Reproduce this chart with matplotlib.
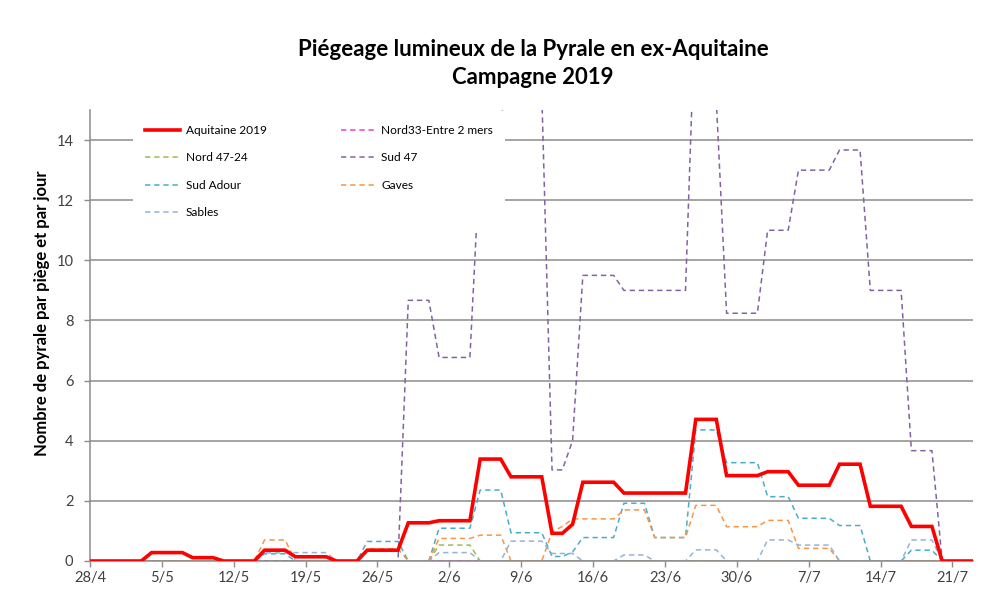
import matplotlib
matplotlib.use('Agg')
import matplotlib.pyplot as plt
import pandas as pd

plt.rcParams['font.family'] = ['Lato', 'DejaVu Sans']

# Relevés journaliers du 28/4 au 23/7
dates = pd.date_range('2019-04-28', '2019-07-23', freq='D')
tick_dates = pd.date_range('2019-04-28', '2019-07-21', freq='7D')
tick_labels = ['28/4', '5/5', '12/5', '19/5', '26/5', '2/6', '9/6',
               '16/6', '23/6', '30/6', '7/7', '14/7', '21/7']

aquitaine = [0, 0, 0, 0, 0, 0, 0.28,
             0.28, 0.28, 0.28, 0.11, 0.11, 0.11, 0,
             0, 0, 0, 0.36, 0.36, 0.36, 0.14,
             0.14, 0.14, 0.14, 0, 0, 0, 0.36,
             0.36, 0.36, 0.36, 1.27, 1.27, 1.27, 1.34,
             1.34, 1.34, 1.34, 3.39, 3.39, 3.39, 2.80,
             2.80, 2.80, 2.80, 0.92, 0.92, 1.22, 2.62,
             2.62, 2.62, 2.62, 2.26, 2.26, 2.26, 2.26,
             2.26, 2.26, 2.26, 4.71, 4.71, 4.71, 2.84,
             2.84, 2.84, 2.84, 2.97, 2.97, 2.97, 2.52,
             2.52, 2.52, 2.52, 3.22, 3.22, 3.22, 1.82,
             1.82, 1.82, 1.82, 1.15, 1.15, 1.15, 0,
             0, 0, 0]

nord33 = [0, 0, 0, 0, 0, 0, 0,
          0, 0, 0, 0, 0, 0, 0,
          0, 0, 0, 0, 0, 0, 0,
          0, 0, 0, 0, 0, 0, 0,
          0, 0, 0, 0, 0, 0, 0,
          0, 0, 0, 0, 0, 0, 0,
          0, 0, 0, 0, 0, 0, 0,
          0, 0, 0, 0, 0, 0, 0,
          0, 0, 0, 0, 0, 0, 0,
          0, 0, 0, 0, 0, 0, 0,
          0, 0, 0, 0, 0, 0, 0,
          0, 0, 0, 0, 0, 0, 0,
          0, 0, 0]

nord47_24 = [0, 0, 0, 0, 0, 0, 0,
             0, 0, 0, 0, 0, 0, 0,
             0, 0, 0, 0, 0, 0, 0,
             0, 0, 0, 0, 0, 0, 0,
             0, 0, 0, 0, 0, 0, 0.53,
             0.53, 0.53, 0.53, 0, 0, 0, 0,
             0, 0, 0, 0, 0, 0, 0,
             0, 0, 0, 0, 0, 0, 0,
             0, 0, 0, 0, 0, 0, 0,
             0, 0, 0, 0, 0, 0, 0,
             0, 0, 0, 0, 0, 0, 0,
             0, 0, 0, 0, 0, 0, 0,
             0, 0, 0]

sud47 = [0, 0, 0, 0, 0, 0, 0,
         0, 0, 0, 0, 0, 0, 0,
         0, 0, 0, 0, 0, 0, 0,
         0, 0, 0, 0, 0, 0, 0,
         0, 0, 0, 8.67, 8.67, 8.67, 6.77,
         6.77, 6.77, 6.77, 13.5, 14.5, 14.6, 17.0,
         18.0, 18.0, 15.6, 3.03, 3.03, 4.0, 9.5,
         9.5, 9.5, 9.5, 9.0, 9.0, 9.0, 9.0,
         9.0, 9.0, 9.0, 19.0, 19.0, 15.3, 8.24,
         8.24, 8.24, 8.24, 11.0, 11.0, 11.0, 13.0,
         13.0, 13.0, 13.0, 13.67, 13.67, 13.67, 9.0,
         9.0, 9.0, 9.0, 3.67, 3.67, 3.67, 0,
         0, 0, 0]

sud_adour = [0, 0, 0, 0, 0, 0, 0,
             0, 0, 0, 0, 0, 0, 0,
             0, 0, 0, 0.24, 0.24, 0.24, 0,
             0, 0, 0, 0, 0, 0, 0.65,
             0.65, 0.65, 0.65, 0, 0, 0, 1.09,
             1.09, 1.09, 1.09, 2.36, 2.36, 2.36, 0.94,
             0.94, 0.94, 0.94, 0.15, 0.15, 0.3, 0.78,
             0.78, 0.78, 0.78, 1.92, 1.92, 1.92, 0.78,
             0.78, 0.78, 0.78, 4.36, 4.36, 4.36, 3.27,
             3.27, 3.27, 3.27, 2.14, 2.14, 2.14, 1.42,
             1.42, 1.42, 1.42, 1.18, 1.18, 1.18, 0,
             0, 0, 0, 0.36, 0.36, 0.36, 0,
             0, 0, 0]

gaves = [0, 0, 0, 0, 0, 0, 0,
         0, 0, 0, 0, 0, 0, 0,
         0, 0, 0, 0.70, 0.70, 0.70, 0,
         0, 0, 0, 0, 0, 0, 0.40,
         0.40, 0.40, 0.40, 0, 0, 0, 0.75,
         0.75, 0.75, 0.75, 0.86, 0.86, 0.86, 0,
         0, 0, 0, 0.97, 1.15, 1.40, 1.40,
         1.40, 1.40, 1.40, 1.70, 1.70, 1.70, 0.78,
         0.78, 0.78, 0.78, 1.85, 1.85, 1.85, 1.14,
         1.14, 1.14, 1.14, 1.35, 1.35, 1.35, 0.42,
         0.42, 0.42, 0.42, 0, 0, 0, 0,
         0, 0, 0, 0, 0, 0, 0,
         0, 0, 0]

sables = [0, 0, 0, 0, 0, 0, 0.28,
          0.28, 0.28, 0.28, 0.11, 0.11, 0.11, 0,
          0, 0, 0, 0.27, 0.27, 0.27, 0.28,
          0.28, 0.28, 0.28, 0, 0, 0, 0,
          0, 0, 0, 0, 0, 0, 0.28,
          0.28, 0.28, 0.28, 0, 0, 0, 0.66,
          0.66, 0.66, 0.66, 0.25, 0.25, 0.25, 0,
          0, 0, 0, 0.20, 0.20, 0.20, 0,
          0, 0, 0, 0.37, 0.37, 0.37, 0,
          0, 0, 0, 0.70, 0.70, 0.70, 0.53,
          0.53, 0.53, 0.53, 0, 0, 0, 0,
          0, 0, 0, 0.70, 0.70, 0.70, 0,
          0, 0, 0]

W, H = 1003, 596
fig = plt.figure(figsize=(W / 100, H / 100), dpi=100)
ax = fig.add_axes([90 / W, 35 / H, 883 / W, 451 / H])

dash = dict(lw=1.1, dashes=(3.5, 2.5))
l_n33, = ax.plot(dates, nord33, color='#F03CC8', label='Nord33-Entre 2 mers', **dash)
l_n47, = ax.plot(dates, nord47_24, color='#9BBB59', label='Nord 47-24', **dash)
l_s47, = ax.plot(dates, sud47, color='#8064A2', label='Sud 47', **dash)
l_sad, = ax.plot(dates, sud_adour, color='#4BACC6', label='Sud Adour', **dash)
l_gav, = ax.plot(dates, gaves, color='#F79646', label='Gaves', **dash)
l_sab, = ax.plot(dates, sables, color='#95B3D7', label='Sables', **dash)
l_aq, = ax.plot(dates, aquitaine, color='#FF0000', lw=2.6, zorder=4,
                solid_joinstyle='miter', label='Aquitaine 2019')

ax.set_xlim(dates[0], dates[-1])
ax.set_ylim(0, 15)
ax.set_yticks(range(0, 15, 2))
ax.set_xticks(tick_dates)
ax.set_xticklabels(tick_labels)
ax.yaxis.grid(True, color='#8C8C8C', lw=1.1)
ax.set_axisbelow(True)

for s in ['top', 'right']:
    ax.spines[s].set_visible(False)
for s in ['left', 'bottom']:
    ax.spines[s].set_color('#8C8C8C')
    ax.spines[s].set_linewidth(1.1)
ax.tick_params(axis='both', colors='#8C8C8C', labelcolor='#404040',
               labelsize=10.5, length=4, width=1)
ax.tick_params(axis='y', pad=8)

# titre de l'axe Y, placé comme dans le graphique Excel
fig.text(42 / W, 1 - 313 / H, 'Nombre de pyrale par piège et par jour',
         rotation=90, ha='center', va='center', fontsize=12, fontweight='bold')

fig.text(533 / W, 1 - 50 / H, 'Piégeage lumineux de la Pyrale en ex-Aquitaine',
         ha='center', va='center', fontsize=16, fontweight='bold')
fig.text(533 / W, 1 - 77 / H, 'Campagne 2019',
         ha='center', va='center', fontsize=16, fontweight='bold')

handles = [l_aq, l_n47, l_sad, l_sab, l_n33, l_s47, l_gav]
leg = ax.legend(handles=handles, ncol=2, loc='upper left',
                bbox_to_anchor=(127 / W, 1 - 107 / H), bbox_transform=fig.transFigure,
                fontsize=8.6, frameon=True, facecolor='white', edgecolor='none',
                framealpha=1, fancybox=False, handlelength=2.9, handletextpad=0.5,
                labelspacing=1.38, columnspacing=6.2, borderpad=1.0)
leg.set_zorder(10)

fig.savefig('out.png', dpi=100)
